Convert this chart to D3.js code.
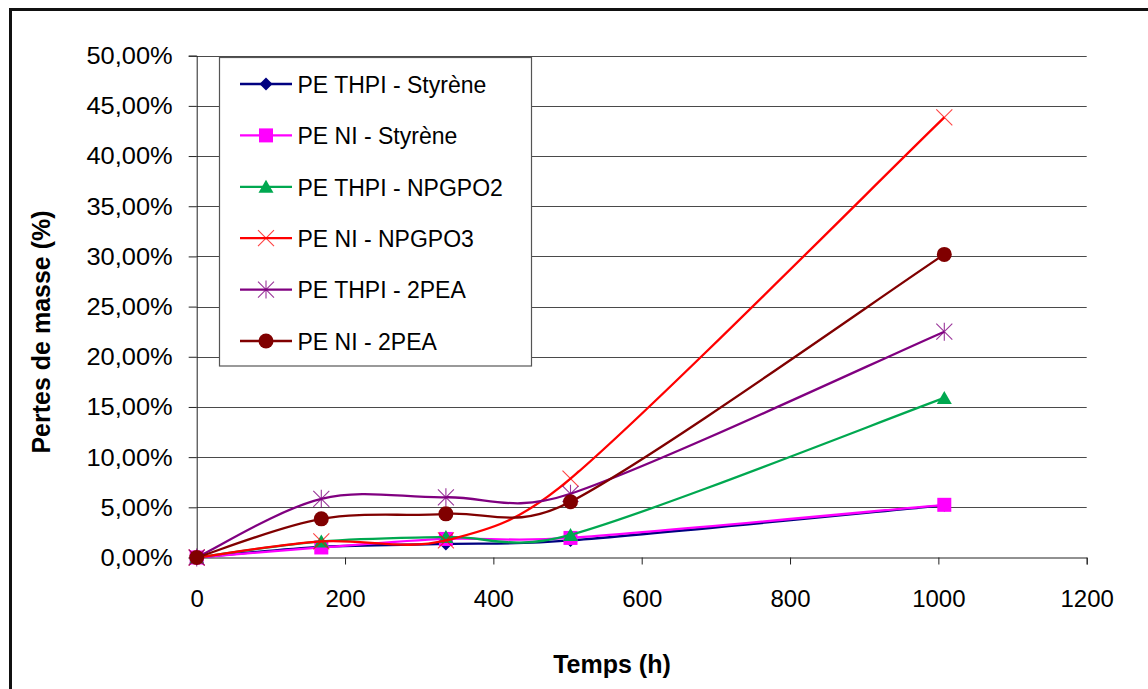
<!DOCTYPE html>
<html>
<head>
<meta charset="utf-8">
<script src="https://cdn.jsdelivr.net/npm/d3@7/dist/d3.min.js"></script>
<style>
html,body{margin:0;padding:0;background:#fff;}
svg{display:block;}
text{font-family:"Liberation Sans",Arial,sans-serif;fill:#000;}
</style>
</head>
<body>
<svg id="chart" width="1148" height="689"></svg>
<script>
// ---- data ----
const hours = [0, 168, 336, 504, 1008];
const seriesNames = ["PE THPI - Styrène", "PE NI - Styrène", "PE THPI - NPGPO2", "PE NI - NPGPO3", "PE THPI - 2PEA", "PE NI - 2PEA"];
const thpiStyrene = [0, 0.0105, 0.0135, 0.0170, 0.0520];
const niStyrene   = [0, 0.0100, 0.0185, 0.0195, 0.0525];
const thpiNpgpo2  = [0, 0.0160, 0.0205, 0.0225, 0.1590];
const niNpgpo3    = [0, 0.0160, 0.0170, 0.0785, 0.4385];
const thpi2pea    = [0, 0.0585, 0.0600, 0.0635, 0.2250];
const ni2pea      = [0, 0.0385, 0.0435, 0.0555, 0.3020];
const xTicks = [0, 200, 400, 600, 800, 1000, 1200];
const yTicks = [0, 0.05, 0.10, 0.15, 0.20, 0.25, 0.30, 0.35, 0.40, 0.45, 0.50];
const xTitle = "Temps (h)";
const yTitle = "Pertes de masse (%)";

const seriesValues = [thpiStyrene, niStyrene, thpiNpgpo2, niNpgpo3, thpi2pea, ni2pea];
const colors = ["#000080", "#FF00FF", "#00A850", "#FF0000", "#800080", "#800000"];
const markerTypes = ["diamond", "square", "triangle", "cross", "star", "circle"];

// Excel-style smoothed line: Bezier with 1/6 tangents, limited to half a segment
function CurveExcel(context) { this._context = context; }
CurveExcel.prototype = {
  areaStart() {}, areaEnd() {},
  lineStart() { this._pts = []; },
  point(px, py) { this._pts.push([+px, +py]); },
  lineEnd() {
    const p = this._pts, c = this._context, n = p.length;
    if (!n) return;
    c.moveTo(p[0][0], p[0][1]);
    const dist = (a, b) => Math.hypot(a[0] - b[0], a[1] - b[1]);
    for (let i = 0; i < n - 1; i++) {
      const p0 = p[i - 1] || p[i], p1 = p[i], p2 = p[i + 1], p3 = p[i + 2] || p[i + 1];
      const d12 = dist(p1, p2), d02 = dist(p0, p2), d13 = dist(p1, p3);
      let f1 = 1 / 6, f2 = 1 / 6;
      if (d02 / 6 > d12 / 2 && d02 > 0) f1 = d12 / d02 / 2;
      if (d13 / 6 > d12 / 2 && d13 > 0) f2 = d12 / d13 / 2;
      c.bezierCurveTo(
        p1[0] + (p2[0] - p0[0]) * f1, p1[1] + (p2[1] - p0[1]) * f1,
        p2[0] - (p3[0] - p1[0]) * f2, p2[1] - (p3[1] - p1[1]) * f2,
        p2[0], p2[1]);
    }
  }
};
const curveExcel = ctx => new CurveExcel(ctx);

const svg = d3.select("#chart");

// outer frame
svg.append("rect").attr("x", 10.5).attr("y", 9.5).attr("width", 1300).attr("height", 900)
  .attr("fill", "none").attr("stroke", "#111").attr("stroke-width", 3);

const x = d3.scaleLinear().domain([0, 1200]).range([196.7, 1086.7]);
const y = d3.scaleLinear().domain([0, 0.5]).range([557.5, 55.7]);

// gridlines
svg.append("g").selectAll("line").data(yTicks.filter(d => d > 0)).join("line")
  .attr("x1", x(0)).attr("x2", x(1200))
  .attr("y1", d => Math.round(y(d)) + 0.5).attr("y2", d => Math.round(y(d)) + 0.5)
  .attr("stroke", "#4a4a4a").attr("stroke-width", 1);

// axes
const fmt = d => d3.format(".2%")(d).replace(".", ",");
const yAxis = svg.append("g").attr("transform", `translate(${x(0)},0)`)
  .call(d3.axisLeft(y).tickValues(yTicks).tickSize(8).tickPadding(16).tickFormat(fmt));
yAxis.selectAll("text").style("font-size", "24px").attr("dy", "0.33em")
  .attr("transform", "scale(1.06,1)").attr("x", -24 / 1.06);
yAxis.selectAll("line,path").attr("stroke", "#222");

const xAxis = svg.append("g").attr("transform", `translate(0,${y(0)})`)
  .call(d3.axisBottom(x).tickValues(xTicks).tickSize(7).tickSizeOuter(7).tickFormat(d3.format("d")));
xAxis.selectAll("text").style("font-size", "24px").attr("y", 49).attr("dy", "0");
xAxis.selectAll("line,path").attr("stroke", "#222");

// axis titles
svg.append("text").attr("x", 612).attr("y", 673).attr("text-anchor", "middle")
  .style("font-size", "25px").style("font-weight", "bold").text(xTitle);
svg.append("text").attr("transform", "translate(50,332) rotate(-90)").attr("text-anchor", "middle")
  .style("font-size", "25px").style("font-weight", "bold").text(yTitle);

// markers
function drawMarker(g, type, color) {
  switch (type) {
    case "diamond":
      g.append("path").attr("d", "M0,-6.5L6.5,0L0,6.5L-6.5,0Z").attr("fill", color);
      break;
    case "square":
      g.append("rect").attr("x", -7).attr("y", -7).attr("width", 14).attr("height", 14).attr("fill", color);
      break;
    case "triangle":
      g.append("path").attr("d", "M0,-7L7.5,6L-7.5,6Z").attr("fill", color);
      break;
    case "cross":
      g.append("path").attr("d", "M-8,-8L8,8M-8,8L8,-8").attr("stroke", color).attr("stroke-width", 1.1).attr("fill", "none").attr("opacity", 0.75);
      break;
    case "star":
      g.append("path").attr("d", "M-8,-8L8,8M-8,8L8,-8M0,-9L0,9").attr("stroke", color).attr("stroke-width", 1.1).attr("fill", "none").attr("opacity", 0.8);
      break;
    case "circle":
      g.append("circle").attr("r", 7.5).attr("fill", color);
      break;
  }
}

const line = d3.line().x((d, i) => x(hours[i])).y(d => y(d)).curve(curveExcel);

seriesValues.forEach((vals, si) => {
  const g = svg.append("g");
  g.append("path").datum(vals).attr("d", line).attr("fill", "none")
    .attr("stroke", colors[si]).attr("stroke-width", 2.3);
  vals.forEach((v, i) => {
    const mg = g.append("g").attr("transform", `translate(${x(hours[i])},${y(v)})`);
    drawMarker(mg, markerTypes[si], colors[si]);
  });
});

// legend
const lg = svg.append("g");
lg.append("rect").attr("x", 219.5).attr("y", 57.5).attr("width", 312).attr("height", 308.5)
  .attr("fill", "#fff").attr("stroke", "#555").attr("stroke-width", 1.2);
seriesNames.forEach((name, i) => {
  const cy = 84 + i * 51.4;
  const row = lg.append("g").attr("transform", `translate(0,${cy})`);
  row.append("line").attr("x1", 240).attr("x2", 292).attr("y1", 0).attr("y2", 0)
    .attr("stroke", colors[i]).attr("stroke-width", 2.3);
  const mg = row.append("g").attr("transform", "translate(266,0)");
  drawMarker(mg, markerTypes[i], colors[i]);
  row.append("text").attr("x", 297.5).attr("y", 8.7).style("font-size", "23px").text(name);
});
</script>
</body>
</html>
